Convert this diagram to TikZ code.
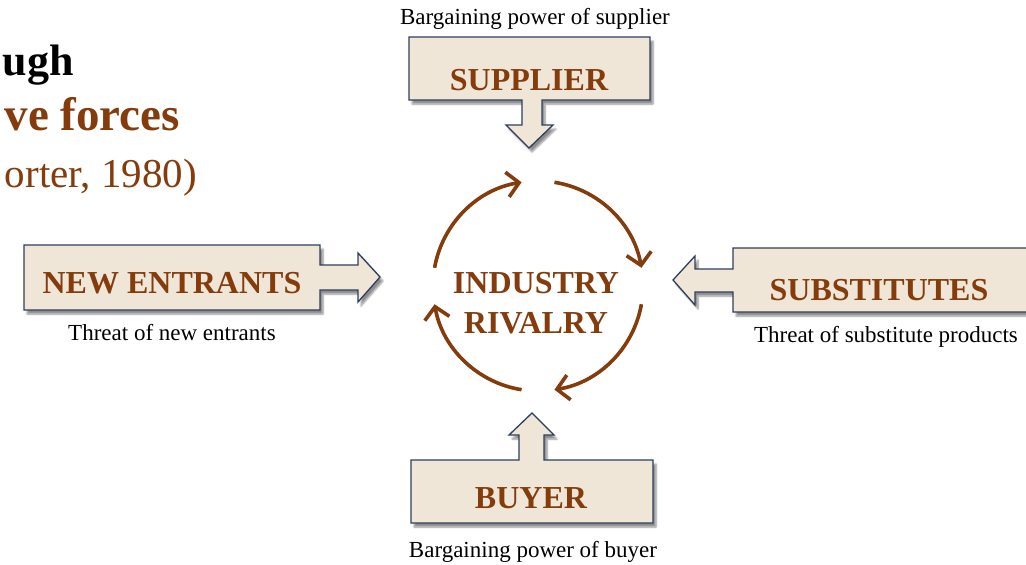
\documentclass[tikz,border=0pt]{standalone}
\usepackage{fontspec}
\setmainfont{Liberation Serif}
\usetikzlibrary{arrows.meta,shadows.blur}
\definecolor{rust}{HTML}{843C0C}
\definecolor{panel}{HTML}{F0E6D7}
\definecolor{edge}{HTML}{2E3E5C}
\tikzset{
  forcebox/.style={draw=edge, line width=1.3pt, fill=panel, line join=miter,
    blur shadow={shadow xshift=3pt, shadow yshift=-4pt, shadow blur steps=6, shadow opacity=45}},
  forcelabel/.style={text=rust, font=\bfseries\fontsize{32}{36}\selectfont, anchor=base, inner sep=0pt},
  caption/.style={font=\fontsize{23}{27}\selectfont, anchor=base, inner sep=0pt},
  titleline/.style={anchor=base east, inner sep=0pt},
  rivalryarc/.style={draw=rust, line width=3.6pt, -{Straight Barb[length=12pt,width=25pt]}}
}
\begin{document}
\begin{tikzpicture}[x=1pt,y=-1pt]
\clip (0,0) rectangle (1026,565);

% heading, running in from the left
\node[titleline, font=\bfseries\fontsize{44}{49}\selectfont] (head1) at (74,75) {ugh};
\node[titleline, text=rust, font=\bfseries\fontsize{47}{52}\selectfont] (head2) at (180,130) {ve forces};
\node[titleline, text=rust, font=\fontsize{41}{46}\selectfont] (head3) at (197,187) {orter, 1980)};

% supplier box with its arrow pointing down
\path[forcebox] (409,37) -- (650,37) -- (650,100) -- (542,100) -- (542,125) -- (553,125)
  -- (529,148) -- (506,125) -- (522,125) -- (522,100) -- (409,100) -- cycle;
% new entrants box with its arrow pointing right
\path[forcebox] (24,245) -- (320,245) -- (320,265) -- (358,265) -- (358,253) -- (380,277)
  -- (358,302) -- (358,290) -- (320,290) -- (320,310) -- (24,310) -- cycle;
% substitutes box with its arrow pointing left
\path[forcebox] (1040,248) -- (733,248) -- (733,269) -- (695,269) -- (695,256) -- (673,280)
  -- (695,305) -- (695,292) -- (733,292) -- (733,312) -- (1040,312) -- cycle;
% buyer box with its arrow pointing up
\path[forcebox] (411,460) -- (519,460) -- (519,435) -- (509,435) -- (532,413) -- (554,435)
  -- (544,435) -- (544,460) -- (653,460) -- (653,523) -- (411,523) -- cycle;

% box labels
\node[forcelabel] (supplier) at (529,90) {SUPPLIER};
\node[forcelabel] (entrants) at (172,293) {NEW ENTRANTS};
\node[forcelabel] (substitutes) at (879,300) {SUBSTITUTES};
\node[forcelabel] (buyer) at (531,508) {BUYER};

% captions
\node[caption] (supplierpower) at (535,24) {Bargaining power of supplier};
\node[caption] (entrantthreat) at (172,340) {Threat of new entrants};
\node[caption] (substitutethreat) at (886,342) {Threat of substitute products};
\node[caption] (buyerpower) at (533,557) {Bargaining power of buyer};

% rivalry cycle in the middle
\coordinate (hub) at (538,286);
\node[forcelabel] (industry) at (536,293) {INDUSTRY};
\node[forcelabel] (rivalry) at (536,333) {RIVALRY};
\draw[rivalryarc] ([shift={(-170:105)}]hub) arc[start angle=-170, end angle=-99, radius=105];
\draw[rivalryarc] ([shift={(-81:105)}]hub) arc[start angle=-81, end angle=-10, radius=105];
\draw[rivalryarc] ([shift={(10:105)}]hub) arc[start angle=10, end angle=81, radius=105];
\draw[rivalryarc] ([shift={(99:105)}]hub) arc[start angle=99, end angle=170, radius=105];
\end{tikzpicture}
\end{document}
